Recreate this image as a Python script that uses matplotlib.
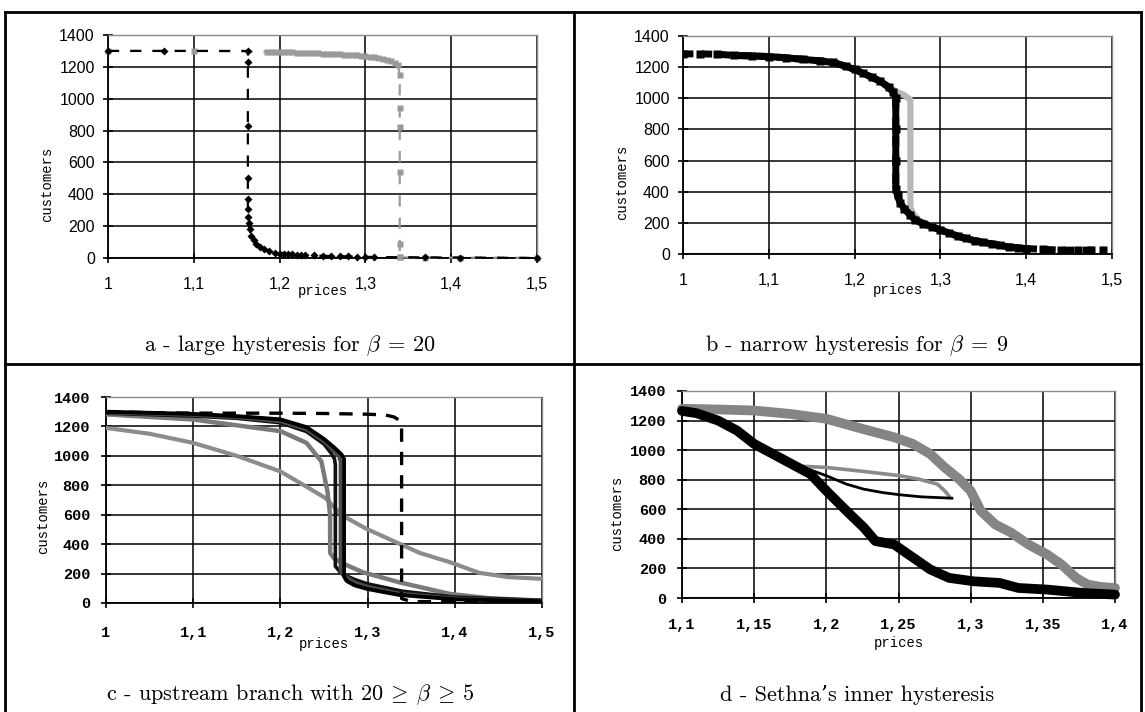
import matplotlib
matplotlib.use("Agg")
import matplotlib.pyplot as plt
from matplotlib.lines import Line2D
from matplotlib.ticker import FuncFormatter, MultipleLocator

plt.rcParams["mathtext.fontset"] = "cm"

W, H = 1145, 712

# ---- panel a : large hysteresis, beta = 20
a_up_x = [1.0, 1.1, 1.185, 1.19, 1.195, 1.2, 1.205, 1.21, 1.215, 1.22, 1.225, 1.23, 1.235,
          1.24, 1.245, 1.25, 1.255, 1.26, 1.265, 1.27, 1.275, 1.28, 1.285, 1.29, 1.295, 1.3,
          1.305, 1.31, 1.315, 1.32, 1.325, 1.33, 1.335, 1.338, 1.34, 1.34, 1.34, 1.34, 1.34,
          1.34, 1.34, 1.37, 1.41, 1.5]
a_up_y = [1300, 1300, 1295, 1295, 1295, 1295, 1294, 1293, 1292, 1290, 1289, 1288, 1287,
          1285, 1284, 1283, 1282, 1280, 1279, 1278, 1276, 1275, 1274, 1272, 1270, 1268,
          1265, 1260, 1255, 1250, 1243, 1235, 1225, 1210, 1150, 940, 820, 540, 90, 5, 4, 3,
          2, 2]
a_down_x = [1.0, 1.065, 1.163, 1.163, 1.163, 1.163, 1.163, 1.163, 1.163, 1.164, 1.165, 1.167,
            1.17, 1.173, 1.177, 1.182, 1.188, 1.195, 1.2, 1.205, 1.21, 1.215, 1.22, 1.225,
            1.23, 1.24, 1.25, 1.26, 1.27, 1.28, 1.29, 1.3, 1.31, 1.37, 1.41, 1.5]
a_down_y = [1300, 1300, 1300, 1230, 830, 500, 370, 310, 260, 220, 180, 140, 110, 90, 70, 55,
            42, 33, 28, 26, 24, 22, 20, 19, 18, 16, 14, 12, 11, 10, 9, 8, 6, 4, 3, 0]

# ---- panel b : narrow hysteresis, beta = 9
b_down_x = [1.0, 1.02, 1.04, 1.06, 1.08, 1.1, 1.12, 1.14, 1.16, 1.175, 1.19, 1.2, 1.21, 1.22,
            1.23, 1.24, 1.245, 1.248, 1.248, 1.248, 1.248, 1.25, 1.253, 1.258, 1.265, 1.27,
            1.28, 1.29, 1.3, 1.31, 1.32, 1.33, 1.34, 1.35, 1.36, 1.37, 1.38, 1.39, 1.4, 1.42,
            1.44, 1.46, 1.475, 1.49]
b_down_y = [1285, 1285, 1283, 1275, 1272, 1268, 1260, 1250, 1240, 1230, 1205, 1185, 1160,
            1135, 1110, 1070, 1040, 1000, 800, 600, 420, 380, 330, 290, 250, 220, 195, 175,
            155, 135, 115, 100, 85, 75, 65, 55, 45, 40, 35, 30, 25, 25, 25, 25]
b_up_x = [1.2, 1.22, 1.24, 1.25, 1.258, 1.265, 1.265, 1.265, 1.268, 1.275, 1.3]
b_up_y = [1185, 1135, 1070, 1040, 1020, 990, 600, 300, 260, 215, 155]

# ---- panel c : upstream branch, 20 >= beta >= 5
c_b20_x = [1.0, 1.06, 1.125, 1.2, 1.25, 1.3, 1.32, 1.33, 1.337, 1.339, 1.339, 1.339, 1.35, 1.5]
c_b20_y = [1300, 1292, 1290, 1290, 1288, 1283, 1278, 1265, 1240, 1200, 500, 30, 10, 5]
c_b15_x = [1.0, 1.1, 1.15, 1.2, 1.23, 1.25, 1.262, 1.27, 1.273, 1.273, 1.276, 1.285, 1.3,
           1.336, 1.4, 1.5]
c_b15_y = [1300, 1285, 1270, 1248, 1195, 1115, 1055, 1010, 980, 180, 150, 120, 95, 55, 25, 12]
c_b12_x = [1.0, 1.1, 1.15, 1.2, 1.23, 1.25, 1.26, 1.267, 1.269, 1.269, 1.272, 1.285, 1.3,
           1.336, 1.4, 1.5]
c_b12_y = [1295, 1278, 1262, 1235, 1180, 1100, 1040, 1000, 960, 220, 190, 140, 110, 65, 30, 14]
c_b10_x = [1.0, 1.1, 1.15, 1.2, 1.23, 1.25, 1.258, 1.262, 1.263, 1.263, 1.27, 1.285, 1.3,
           1.34, 1.4, 1.5]
c_b10_y = [1290, 1270, 1255, 1225, 1165, 1080, 1020, 980, 940, 250, 200, 160, 130, 80, 40, 18]
c_b9_x = [1.0, 1.1, 1.2, 1.23, 1.247, 1.254, 1.257, 1.257, 1.262, 1.277, 1.294, 1.336, 1.394,
          1.44, 1.5]
c_b9_y = [1282, 1247, 1168, 1088, 962, 757, 600, 340, 300, 255, 210, 141, 62, 32, 16]
c_b5_x = [1.0, 1.05, 1.1, 1.15, 1.2, 1.23, 1.252, 1.27, 1.298, 1.336, 1.36, 1.394, 1.428,
          1.461, 1.5]
c_b5_y = [1190, 1150, 1088, 1000, 894, 790, 712, 598, 506, 404, 340, 278, 205, 176, 164]

# ---- panel d : Sethna's inner hysteresis
d_up_x = [1.1, 1.125, 1.15, 1.175, 1.2, 1.225, 1.247, 1.26, 1.272, 1.282, 1.292, 1.3, 1.307,
          1.317, 1.328, 1.34, 1.353, 1.363, 1.373, 1.381, 1.39, 1.4]
d_up_y = [1280, 1275, 1268, 1245, 1212, 1144, 1087, 1042, 974, 883, 804, 725, 589, 498, 442,
          362, 294, 226, 136, 91, 75, 68]
d_down_x = [1.1, 1.11, 1.125, 1.138, 1.15, 1.163, 1.176, 1.189, 1.2, 1.214, 1.226, 1.234,
            1.247, 1.257, 1.272, 1.285, 1.302, 1.32, 1.333, 1.353, 1.378, 1.4]
d_down_y = [1265, 1250, 1200, 1133, 1042, 974, 906, 838, 725, 589, 476, 385, 362, 294, 193,
            136, 113, 102, 68, 57, 34, 23]
d_in_black_x = [1.185, 1.2, 1.214, 1.226, 1.239, 1.251, 1.266, 1.287]
d_in_black_y = [880, 827, 770, 736, 713, 698, 684, 675]
d_in_gray_x = [1.185, 1.2, 1.226, 1.251, 1.264, 1.277, 1.282, 1.285]
d_in_gray_y = [890, 883, 856, 827, 804, 770, 725, 690]

captions = [r"a - large hysteresis for $\beta\:=\:20$",
            r"b - narrow hysteresis for $\beta\:=\:9$",
            r"c - upstream branch with $20\:\geq\:\beta\:\geq\:5$",
            "d - Sethna’s inner hysteresis"]

fig = plt.figure(figsize=(W / 100, H / 100), dpi=100)


def px_axes(x0, y0, x1, y1):
    return fig.add_axes([x0 / W, 1 - y1 / H, (x1 - x0) / W, (y1 - y0) / H])


def comma(v, pos):
    return f"{v:g}".replace(".", ",")


def style(ax, xmin, xmax, xstep, tickfont, xpad, ypad, xlab_y, ylab_x, ylab_y):
    ax.set_xlim(xmin, xmax)
    ax.set_ylim(0, 1400)
    ax.xaxis.set_major_locator(MultipleLocator(xstep))
    ax.yaxis.set_major_locator(MultipleLocator(200))
    ax.xaxis.set_major_formatter(FuncFormatter(comma))
    ax.grid(True, color="black", lw=1.1)
    ax.set_axisbelow(True)
    for s in ["left", "bottom"]:
        ax.spines[s].set_color("black")
        ax.spines[s].set_linewidth(1.3)
    for s in ["top", "right"]:
        ax.spines[s].set_color("#8a8a8a")
        ax.spines[s].set_linewidth(1.0)
    ax.tick_params(direction="inout", length=7, width=1.2, color="black")
    ax.tick_params(axis="x", pad=xpad)
    ax.tick_params(axis="y", pad=ypad)
    for lab in ax.get_xticklabels() + ax.get_yticklabels():
        lab.set_fontfamily(tickfont["family"])
        lab.set_fontsize(tickfont["size"])
        lab.set_fontweight(tickfont.get("weight", "normal"))
    ax.set_ylabel("customers", fontfamily="Liberation Mono", fontsize=10)
    ax.set_xlabel("prices", fontfamily="Liberation Mono", fontsize=10)
    ax.xaxis.set_label_coords(0.5, xlab_y)
    ax.yaxis.set_label_coords(ylab_x, ylab_y)


sans = {"family": "Liberation Sans", "size": 11.5}
mono = {"family": "Liberation Mono", "size": 11, "weight": "bold"}

# panel a
ax = px_axes(108, 35, 537, 258)
ax.plot(a_up_x, a_up_y, color="#9a9a9a", ls=(0, (5, 5)), lw=1.6, marker="s", ms=5,
        mec="none", clip_on=False, zorder=3)
ax.plot(a_down_x, a_down_y, color="black", ls=(0, (5, 5)), lw=1.6, marker="D", ms=4.5,
        mec="none", clip_on=False, zorder=4)
style(ax, 1.0, 1.5, 0.1, sans, 10, 6, -0.115, -0.125, 0.33)

# panel b
ax = px_axes(683, 36, 1112, 254)
ax.plot(b_up_x, b_up_y, color="#b8b8b8", lw=4.5, solid_capstyle="butt", zorder=3)
ax.plot(b_down_x, b_down_y, color="black", ls=(0, (1.5, 1.2)), lw=5, marker="s", ms=6,
        mec="none", zorder=4)
ax.plot(b_down_x[3:-5], b_down_y[3:-5], color="black", lw=5, zorder=4)
style(ax, 1.0, 1.5, 0.1, sans, 10, 6, -0.135, -0.125, 0.33)

# panel c
ax = px_axes(106, 397, 542, 603)
ax.plot(c_b5_x, c_b5_y, color="#8c8c8c", lw=3, zorder=3)
ax.plot(c_b9_x, c_b9_y, color="#7a7a7a", lw=3.2, zorder=3)
ax.plot(c_b10_x, c_b10_y, color="#111111", lw=2.6, zorder=4)
ax.plot(c_b12_x, c_b12_y, color="#4a4a4a", lw=2.8, zorder=4)
ax.plot(c_b15_x, c_b15_y, color="black", lw=2.8, zorder=5)
ax.plot(c_b20_x, c_b20_y, color="black", lw=2.4, ls=(0, (4, 3)), zorder=5)
style(ax, 1.0, 1.5, 0.1, mono, 13, 8, -0.165, -0.128, 0.42)

# panel d
ax = px_axes(682, 391, 1115, 598)
ax.plot(d_up_x, d_up_y, color="#858585", lw=7, solid_capstyle="round", zorder=3,
        clip_on=False)
ax.plot(d_down_x, d_down_y, color="black", lw=7, solid_capstyle="round", zorder=4,
        clip_on=False)
ax.plot(d_in_gray_x, d_in_gray_y, color="#8a8a8a", lw=2.6, zorder=3)
ax.plot(d_in_black_x, d_in_black_y, color="black", lw=2, zorder=4)
style(ax, 1.1, 1.4, 0.05, mono, 11, 8, -0.185, -0.134, 0.41)

# captions
for (cx, cy), txt in zip([(290, 346), (857, 346), (290, 695), (857, 695)], captions):
    fig.text(cx / W, 1 - cy / H, txt, ha="center", va="center",
             fontfamily=["cmr10", "DejaVu Serif"], fontsize=16)

# table borders
def hline(y, x0=5, x1=1141):
    fig.add_artist(Line2D([x0 / W, x1 / W], [1 - y / H, 1 - y / H], color="black", lw=2))


def vline(x, y0=12, y1=712):
    fig.add_artist(Line2D([x / W, x / W], [1 - y0 / H, 1 - y1 / H], color="black", lw=2))


hline(12)
hline(364)
vline(5)
vline(574)
vline(1141)

fig.savefig("out.png", dpi=100)
